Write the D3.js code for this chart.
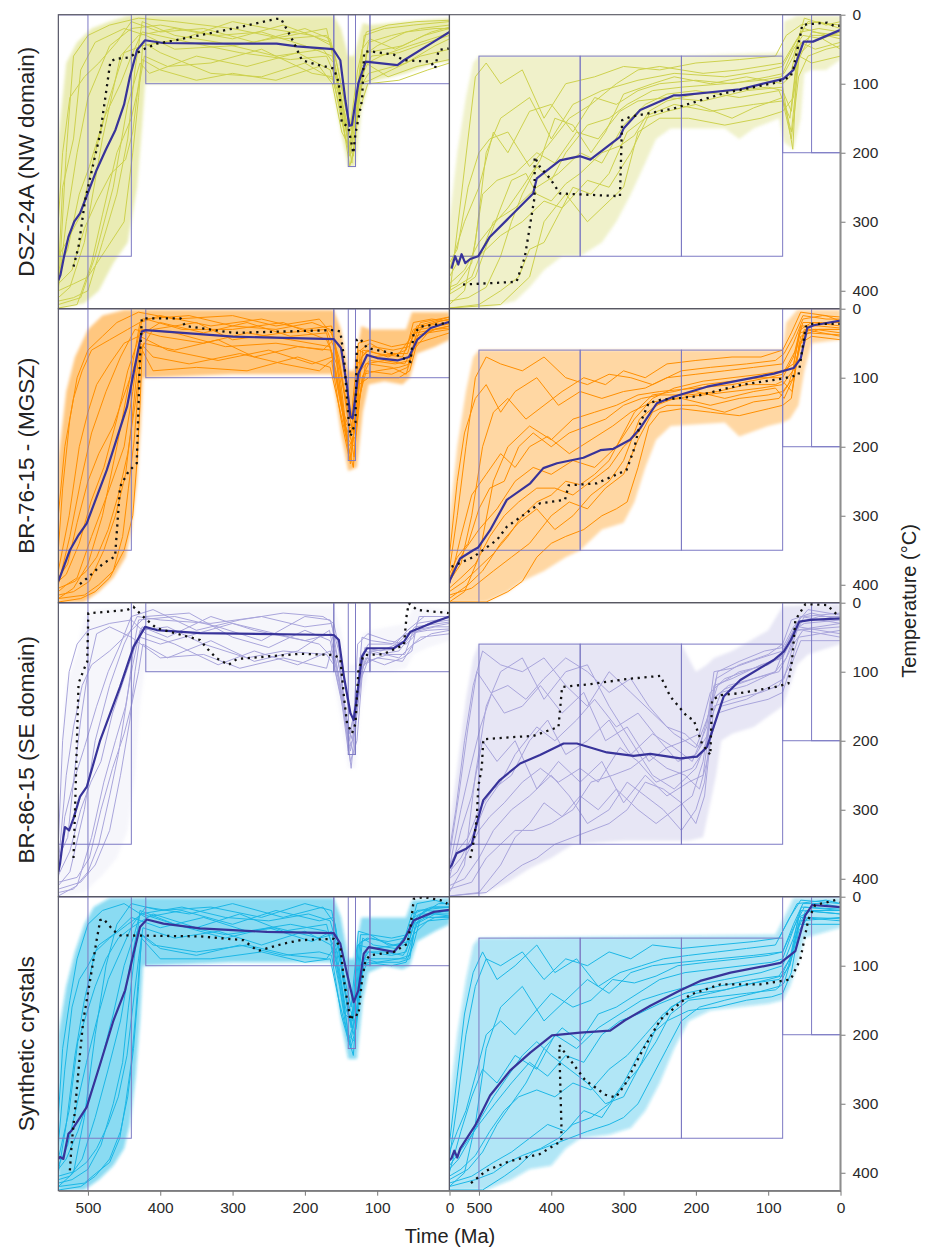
<!DOCTYPE html>
<html>
<head>
<meta charset="utf-8">
<script src="https://cdn.jsdelivr.net/npm/d3@7"></script>
<style>
  body { margin: 0; background: #fff; }
  svg { display: block; font-family: "Liberation Sans", Arial, sans-serif; }
</style>
</head>
<body>
<div id="chart"></div>
<script>
// axis ticks and row names
const timeTicks = [500, 400, 300, 200, 100, 0];
const tempTicks = [0, 100, 200, 300, 400];
const rowNames = ['DSZ-24A (NW domain)', 'BR-76-15 - (MGSZ)', 'BR-86-15 (SE domain)', 'Synthetic crystals'];

// constraint boxes [tOld, tYoung, Tlow, Thigh]
const leftBoxes = [[541, 500, 0, 426], [541, 440, 0, 350], [420, 160, 0, 100], [160, 110, 0, 100], [110, 0, 0, 100], [140, 130, 0, 220]];
const rightBoxes = [[541, 500, 350, 426], [500, 360, 60, 350], [360, 220, 60, 350], [220, 80, 60, 350], [80, 0, 0, 200], [40, 0, 0, 200]];

// ---------- DSZ-24A, left ----------
const dszLeftPaths = [
  [541,410, 525,395, 505,330, 480,180, 455,60, 430,30, 380,20, 300,35, 230,15, 165,40, 150,120, 138,205, 128,140, 112,40, 80,30, 40,20, 0,15],
  [541,395, 530,300, 515,200, 500,120, 470,45, 440,20, 400,15, 320,30, 260,25, 200,45, 162,60, 145,150, 135,215, 122,90, 108,60, 70,55, 30,40, 0,30],
  [541,420, 510,410, 490,350, 465,250, 445,130, 428,70, 415,85, 350,60, 280,75, 210,55, 165,80, 150,140, 137,190, 126,110, 112,85, 60,70, 20,45, 0,35],
  [541,380, 535,250, 520,180, 510,80, 490,40, 450,20, 420,30, 380,50, 300,45, 220,30, 170,20, 155,90, 140,170, 132,160, 118,30, 90,20, 50,15, 0,10],
  [541,400, 520,390, 500,380, 475,340, 450,300, 438,200, 430,120, 424,40, 400,55, 330,85, 260,90, 200,70, 160,95, 148,130, 136,180, 125,100, 110,95, 80,80, 40,60, 0,50],
  [541,350, 530,330, 510,290, 490,200, 470,120, 450,55, 425,45, 370,35, 300,10, 250,20, 190,30, 163,45, 152,110, 141,175, 130,150, 120,60, 100,45, 60,25, 20,20, 0,20],
  [541,415, 520,410, 500,400, 480,330, 460,260, 445,180, 435,80, 425,10, 380,30, 320,40, 240,60, 175,50, 160,70, 147,160, 138,220, 131,190, 123,75, 95,60, 55,45, 10,30, 0,25],
  [541,300, 535,200, 525,120, 505,90, 485,70, 460,40, 440,10, 400,25, 340,20, 270,40, 200,20, 165,35, 155,75, 143,140, 134,170, 121,50, 110,35, 75,50, 35,30, 0,20],
  [541,425, 515,420, 495,360, 480,290, 460,200, 440,150, 428,95, 422,60, 390,75, 330,70, 260,50, 190,85, 161,90, 150,150, 139,200, 129,120, 116,70, 85,90, 45,75, 0,65],
  [541,370, 528,340, 512,260, 498,220, 478,150, 455,100, 440,60, 425,25, 360,40, 290,55, 220,65, 170,60, 154,100, 144,180, 133,205, 124,120, 114,55, 65,45, 25,25, 0,18],
  [541,405, 530,200, 520,60, 500,30, 470,15, 430,5, 380,10, 300,20, 230,35, 170,30, 158,60, 146,120, 137,160, 127,80, 115,25, 85,15, 45,10, 0,8],
  [541,390, 522,370, 505,310, 488,270, 468,230, 448,210, 438,170, 430,100, 425,65, 400,80, 350,95, 300,85, 240,95, 180,75, 162,100, 149,170, 136,195, 125,140, 113,100, 70,95, 30,80, 0,70]
];
const dszLeftUpper = [541,180, 530,70, 515,40, 495,20, 470,10, 445,2, 160,2, 150,20, 140,60, 132,60, 120,12, 110,15, 60,10, 0,5];
const dszLeftLower = [541,426, 505,418, 485,400, 465,360, 445,330, 432,250, 425,160, 421,100, 300,100, 162,100, 150,170, 140,220, 130,220, 122,140, 112,100, 100,95, 60,85, 20,70, 0,68];
const dszLeftMean = [541,385, 538,377, 533,350, 527,322, 519,300, 511,288, 500,258, 488,225, 475,195, 462,167, 450,130, 442,90, 432,51, 421,37, 396,41, 322,42, 239,42, 211,46, 161,50, 151,66, 144,124, 138.5,161, 135,160, 126,99, 116,68, 72,73, 63,66, 26,42, 0,25];
const dszLeftBest = [520,365, 513,336, 504,269, 483,172, 469,68, 462,64, 444,62, 421,49, 405,42, 384,38, 299,20, 239,6, 233,6, 223,25, 216,39, 204,66, 188,71, 160,78, 153,99, 149,157, 140,162, 133,201, 130,172, 121,124, 118,54, 110,53, 77,58, 63,66, 26,68, 20,78, 15,51, 1,49];

// ---------- DSZ-24A, right ----------
const dszRightPaths = [
  [541,420, 520,400, 505,330, 490,200, 470,150, 430,120, 400,180, 370,130, 330,110, 280,95, 230,85, 160,90, 100,80, 80,75, 62,40, 50,20, 20,30, 0,35],
  [541,400, 510,380, 480,300, 450,280, 420,250, 390,230, 360,200, 330,215, 300,160, 270,130, 240,115, 200,110, 140,120, 85,110, 70,150, 60,60, 40,40, 0,25],
  [541,380, 525,350, 500,350, 470,320, 440,300, 410,270, 385,280, 350,240, 320,250, 290,200, 265,145, 230,130, 180,140, 120,130, 80,125, 68,180, 58,90, 45,60, 20,50, 0,45],
  [541,410, 505,90, 490,70, 470,100, 440,80, 410,150, 380,100, 340,90, 300,75, 250,80, 200,70, 140,65, 90,60, 75,30, 55,15, 30,10, 0,20],
  [541,425, 470,420, 445,395, 430,380, 410,300, 380,260, 350,300, 320,270, 300,250, 280,170, 250,150, 210,150, 160,160, 110,150, 80,140, 65,120, 55,40, 35,50, 0,40],
  [541,370, 520,300, 500,250, 480,170, 460,200, 430,140, 400,130, 370,170, 340,120, 310,130, 280,110, 250,100, 200,95, 150,100, 100,90, 78,85, 65,60, 50,5, 20,15, 0,10],
  [541,395, 530,390, 510,360, 495,260, 475,240, 450,230, 420,200, 395,215, 365,170, 335,180, 305,140, 280,125, 240,120, 190,125, 130,110, 80,105, 66,195, 60,70, 40,25, 0,30],
  [541,415, 515,410, 490,395, 470,350, 455,300, 440,260, 420,220, 400,240, 380,200, 350,160, 320,150, 295,130, 260,110, 220,105, 160,100, 110,95, 82,90, 65,50, 52,30, 25,35, 0,50],
  [541,360, 530,340, 515,250, 500,200, 485,180, 460,170, 430,220, 405,190, 375,150, 345,130, 310,100, 280,80, 250,75, 190,85, 140,80, 80,70, 60,35, 45,10, 0,15],
  [541,425, 500,420, 470,400, 445,380, 430,340, 410,330, 390,290, 370,250, 345,260, 320,230, 295,170, 270,150, 240,140, 200,130, 150,150, 120,135, 80,120, 68,170, 57,60, 40,70, 0,60],
  [541,390, 520,370, 500,330, 485,310, 460,280, 440,250, 415,210, 395,150, 370,160, 345,200, 325,170, 300,115, 260,100, 230,90, 180,100, 130,90, 80,100, 70,90, 55,25, 30,20, 0,25],
  [541,405, 525,395, 505,380, 488,330, 470,280, 455,240, 435,230, 420,260, 400,270, 380,245, 360,230, 330,200, 305,190, 285,175, 265,140, 240,125, 200,115, 150,110, 100,105, 80,110, 68,140, 58,45, 40,30, 0,30]
];
const dszRightUpper = [541,300, 530,200, 518,120, 508,70, 500,60, 220,60, 80,55, 78,10, 60,2, 0,2];
const dszRightLower = [541,426, 490,425, 450,415, 430,395, 410,370, 385,350, 360,350, 330,330, 310,300, 290,260, 270,215, 255,180, 235,165, 160,165, 140,180, 120,165, 85,150, 78,185, 65,195, 55,150, 50,85, 40,80, 20,80, 0,65];
const dszRightMean = [538,368, 533,350, 528.5,362, 524,347, 519,360, 512,354, 501,350, 485,322, 462,298, 425,259, 420,237, 388,211, 360,205, 346,210, 305,177, 300,165, 277,138, 231,117, 222,117, 139,108, 79,93, 65,80, 55,51, 51,39, 38,39, 0,22];
const dszRightBest = [522,391, 448,387, 436.5,351, 423,264, 423,206, 416,220, 402,237, 388,259, 305,263, 302,153, 291,148, 231,136, 162,114, 92,99, 69,90, 65,77, 55,27, 53,15, 41,13.5, 18.5,11.6, 9,16, 0,16];

// ---------- BR-76-15, left ----------
const br76LeftPaths = [
  [541,420, 520,405, 500,370, 480,300, 460,200, 440,90, 428,20, 400,10, 330,25, 260,15, 200,30, 163,25, 150,110, 139,210, 130,170, 120,60, 100,65, 65,70, 50,30, 20,20, 0,15],
  [541,400, 525,330, 510,250, 495,180, 475,120, 455,70, 435,30, 400,40, 340,50, 280,35, 220,45, 165,55, 152,130, 140,190, 131,200, 124,90, 110,75, 75,80, 55,75, 45,35, 0,25],
  [541,410, 530,400, 515,390, 495,330, 470,260, 450,200, 438,120, 428,40, 390,60, 320,75, 250,60, 190,80, 162,70, 148,150, 137,225, 128,140, 115,90, 80,95, 58,85, 48,45, 20,30, 0,28],
  [541,350, 535,260, 525,160, 515,100, 500,60, 480,40, 460,20, 430,5, 380,15, 300,10, 240,25, 180,15, 160,40, 146,120, 136,160, 126,50, 110,45, 80,55, 55,50, 40,20, 0,12],
  [541,425, 510,420, 490,410, 470,390, 450,350, 438,300, 432,220, 428,140, 425,60, 410,90, 350,85, 280,90, 210,70, 165,85, 153,140, 141,195, 133,230, 125,110, 112,100, 70,100, 55,90, 45,50, 15,40, 0,35],
  [541,390, 528,370, 515,310, 500,250, 485,210, 465,170, 445,110, 430,65, 410,30, 350,20, 300,45, 230,35, 170,30, 158,60, 147,150, 136,180, 127,80, 114,60, 85,70, 60,60, 50,20, 25,15, 0,18],
  [541,415, 520,410, 498,395, 478,350, 462,300, 448,240, 440,170, 432,90, 426,30, 380,35, 310,55, 240,50, 175,60, 160,45, 149,100, 139,170, 132,215, 124,130, 116,80, 90,75, 62,80, 52,60, 40,30, 0,22],
  [541,300, 532,200, 520,130, 508,90, 495,60, 470,45, 445,30, 420,15, 370,30, 300,30, 230,20, 170,45, 156,80, 144,170, 134,195, 122,70, 106,55, 78,60, 56,55, 45,25, 10,15, 0,12],
  [541,405, 518,395, 502,380, 488,360, 472,320, 458,270, 445,210, 435,140, 428,80, 423,50, 380,60, 320,45, 270,70, 210,55, 164,60, 152,120, 140,200, 130,185, 121,100, 112,80, 80,85, 60,95, 50,60, 30,35, 0,30],
  [541,380, 526,300, 512,200, 500,150, 488,110, 470,80, 450,50, 430,40, 400,20, 340,35, 280,20, 220,40, 170,35, 157,90, 145,165, 134,175, 126,60, 108,70, 70,65, 52,40, 35,25, 0,20],
  [541,420, 505,415, 485,400, 465,380, 452,330, 444,260, 436,190, 430,110, 427,50, 410,70, 360,80, 290,65, 230,80, 180,90, 163,75, 150,160, 138,220, 129,160, 119,95, 100,90, 70,85, 55,80, 47,40, 20,30, 0,25],
  [541,395, 530,385, 512,340, 496,280, 478,230, 460,160, 445,90, 432,50, 425,15, 360,10, 300,25, 240,30, 190,20, 165,30, 153,70, 142,140, 133,180, 123,60, 110,50, 85,65, 58,65, 48,30, 20,20, 0,15]
];
const br76LeftUpper = [541,220, 530,120, 518,70, 500,30, 480,10, 450,2, 160,2, 150,30, 140,90, 132,90, 122,25, 110,30, 60,30, 52,5, 0,5];
const br76LeftLower = [541,426, 505,425, 485,410, 465,390, 448,360, 440,320, 432,250, 427,170, 424,100, 300,95, 162,95, 150,180, 140,235, 128,230, 120,150, 112,110, 90,105, 65,110, 55,100, 45,65, 20,55, 0,45];
const br76LeftMean = [541,395, 538.6,388.5, 525,350, 513,328, 501.7,311, 474,234, 446,142, 432.5,70, 425.5,33, 420,31, 299,40.6, 160,44, 150,57, 141.7,113, 137,156.5, 134,159, 126,94, 114,67, 100,71.5, 72,75, 56,70, 44.6,45, 26,28, 0,19];
const br76LeftBest = [511,399, 499.5,389, 478.7,369, 462.5,359, 455.6,258, 444,236, 432.5,224, 428,70, 425.5,14, 372,14, 365.6,25, 298.7,35, 160,31, 151,33, 146,70, 139.5,161, 137,185, 130,165, 128,45, 124,43, 114,57, 77,65, 54,77, 49.6,36, 40,26, 0,20];

// ---------- BR-76-15, right ----------
const br76RightPaths = [
  [541,425, 520,410, 500,360, 480,250, 460,200, 430,170, 400,190, 370,160, 340,150, 310,140, 280,125, 250,120, 200,115, 150,110, 100,100, 80,95, 62,60, 52,20, 25,20, 0,20],
  [541,400, 525,330, 510,270, 490,240, 470,210, 450,230, 430,200, 405,185, 375,210, 345,190, 315,170, 290,150, 260,135, 220,130, 180,140, 140,130, 100,125, 80,120, 65,100, 55,40, 30,30, 0,30],
  [541,380, 530,300, 518,200, 505,100, 490,70, 470,80, 440,90, 410,70, 380,100, 350,110, 320,95, 290,100, 260,110, 220,90, 180,85, 130,80, 90,75, 78,65, 65,40, 52,10, 20,15, 0,15],
  [541,415, 510,405, 480,380, 455,360, 430,340, 400,300, 375,280, 350,290, 325,260, 300,240, 280,190, 260,150, 240,140, 200,140, 160,150, 120,135, 85,130, 72,110, 60,70, 50,30, 0,40],
  [541,390, 520,350, 500,320, 475,290, 450,250, 425,230, 400,240, 370,220, 340,230, 310,200, 285,160, 260,130, 230,115, 190,105, 150,100, 110,95, 80,90, 65,80, 55,30, 40,20, 0,25],
  [541,420, 515,400, 495,380, 470,340, 445,310, 420,290, 395,320, 370,300, 345,270, 320,250, 300,220, 278,160, 255,140, 230,130, 190,125, 150,120, 110,115, 80,110, 66,90, 57,35, 35,30, 0,35],
  [541,360, 530,250, 520,180, 505,130, 490,110, 470,150, 450,120, 420,100, 390,140, 360,120, 330,130, 300,120, 270,115, 240,100, 200,95, 160,90, 120,85, 80,80, 65,50, 52,15, 25,10, 0,12],
  [541,405, 525,390, 505,370, 485,330, 465,300, 445,280, 420,260, 395,260, 370,270, 345,250, 320,230, 300,200, 280,180, 260,145, 240,130, 200,120, 160,130, 120,120, 90,115, 78,130, 65,100, 55,50, 40,40, 0,45],
  [541,425, 490,425, 460,410, 440,395, 420,360, 400,340, 380,330, 355,320, 330,300, 310,290, 295,280, 280,230, 265,170, 250,150, 220,145, 180,150, 140,155, 100,145, 80,140, 68,130, 58,60, 48,30, 0,30],
  [541,395, 525,370, 510,300, 495,200, 480,150, 460,130, 435,160, 410,140, 385,120, 355,100, 325,110, 300,90, 270,100, 240,80, 200,75, 150,70, 110,70, 80,60, 68,35, 55,5, 20,10, 0,18],
  [541,410, 520,395, 500,375, 480,355, 460,330, 440,300, 420,280, 400,270, 380,250, 360,255, 340,240, 320,220, 300,180, 285,150, 260,125, 230,120, 190,110, 150,105, 110,100, 80,100, 65,70, 55,25, 30,25, 0,28],
  [541,385, 530,360, 515,340, 500,290, 485,260, 465,250, 445,200, 425,180, 400,200, 375,180, 350,170, 325,160, 300,140, 275,130, 250,125, 210,125, 170,120, 130,110, 90,110, 80,105, 67,120, 57,50, 45,35, 0,38]
];
const br76RightUpper = [541,310, 530,200, 518,120, 508,70, 500,60, 80,60, 75,20, 60,2, 0,2];
const br76RightLower = [541,426, 490,425, 460,410, 440,395, 410,380, 380,360, 360,350, 330,320, 300,310, 285,280, 270,230, 255,190, 235,170, 160,165, 140,185, 100,170, 80,165, 70,160, 58,140, 50,90, 40,50, 0,45];
const br76RightMean = [541,398, 540,393, 526,362, 508,350, 501,346, 484.6,321, 461.5,277, 429,253, 411,231, 392,224, 355.5,216, 332,205, 314,203, 291,190, 277,173, 254,137, 231,127.5, 184.6,113, 92,94, 64.7,86, 55,72, 46,28, 37,24, 0,17.4];
const br76RightBest = [538,374, 508,360, 475,335, 461.5,316, 415.6,282, 381,277, 376,256, 337,253, 296,234, 286,205, 277,166, 265.5,137, 249,132, 203,127.5, 138.5,110.6, 78.5,101, 58,96, 55,74, 48,26, 41,22, 0,22];

// ---------- BR-86-15, left ----------
const br86LeftPaths = [
  [541,410, 525,390, 505,300, 490,200, 470,120, 450,60, 432,20, 400,25, 330,30, 260,20, 200,35, 163,30, 150,110, 138,200, 128,130, 118,70, 100,75, 70,70, 55,50, 30,30, 0,25],
  [541,380, 530,250, 520,180, 508,120, 495,90, 470,70, 440,40, 420,20, 360,15, 300,50, 250,65, 200,40, 165,55, 152,120, 140,215, 131,190, 124,80, 112,60, 80,60, 60,45, 20,35, 0,35],
  [541,425, 515,410, 495,340, 478,260, 462,200, 448,150, 438,90, 428,40, 390,35, 340,60, 280,80, 230,70, 170,75, 160,90, 146,160, 136,240, 128,150, 119,90, 100,80, 65,85, 50,60, 25,45, 0,40],
  [541,400, 532,310, 520,260, 505,210, 488,150, 472,100, 455,60, 440,20, 410,10, 350,40, 290,25, 230,15, 175,20, 160,30, 148,90, 139,160, 130,170, 121,50, 108,55, 75,60, 58,40, 35,20, 0,20],
  [541,350, 535,200, 526,100, 515,60, 500,40, 470,30, 440,25, 420,45, 380,60, 320,90, 270,70, 210,90, 165,70, 154,100, 142,180, 133,200, 125,100, 114,85, 85,75, 62,75, 50,40, 0,30],
  [541,415, 510,405, 490,380, 470,330, 455,250, 442,170, 435,100, 428,50, 400,60, 350,45, 300,30, 240,45, 180,60, 162,80, 149,140, 137,215, 129,170, 117,65, 95,70, 62,55, 48,35, 0,28],
  [541,395, 525,360, 510,300, 496,260, 482,230, 466,160, 450,110, 437,70, 425,35, 390,50, 330,20, 270,40, 200,55, 163,45, 151,100, 141,190, 132,220, 126,120, 116,80, 90,90, 65,80, 52,70, 45,30, 0,22],
  [541,420, 520,415, 500,390, 485,350, 470,280, 458,220, 446,140, 436,60, 430,25, 380,20, 320,35, 260,55, 200,20, 165,25, 153,70, 143,170, 134,200, 127,60, 113,45, 85,55, 60,60, 50,50, 42,20, 0,20],
  [541,370, 528,340, 518,240, 510,170, 500,100, 488,45, 470,35, 440,50, 400,80, 340,75, 290,95, 230,80, 170,95, 161,60, 150,130, 138,190, 130,150, 122,110, 108,70, 70,80, 55,65, 40,50, 0,45],
  [541,405, 515,398, 498,370, 482,300, 466,240, 450,190, 440,150, 430,100, 424,60, 390,80, 330,55, 270,85, 210,70, 166,40, 156,90, 146,150, 137,230, 128,200, 120,95, 110,70, 80,68, 58,45, 30,40, 0,38]
];
const br86LeftUpper = [541,250, 530,120, 515,70, 505,20, 490,10, 440,5, 160,5, 150,40, 140,90, 130,90, 120,45, 110,40, 60,30, 50,5, 0,10];
const br86LeftLower = [541,426, 505,420, 480,395, 460,370, 445,330, 435,250, 428,150, 422,100, 300,100, 162,100, 150,170, 140,240, 130,240, 122,140, 112,100, 80,100, 60,95, 50,75, 30,65, 0,55];
const br86LeftMean = [541,390, 538.6,378, 534,340, 531.7,325, 526,330, 520,312.5, 511,281, 501.7,267, 483,199, 455.6,122, 437,64, 421,35, 405,39.6, 345,44, 160,46.8, 153,54, 146,107, 137,160, 132.5,170, 128,136, 121,78, 114,66, 77,66, 63,56.6, 54,42, 26,30, 0,20];
const br86LeftBest = [520,370, 518,305, 515.6,213, 513,117, 506,97.5, 501,85.5, 499.5,15.4, 446,10.6, 437,6, 433,10.6, 418.6,25, 405,37, 345,54, 335.6,66, 322,80.6, 305.6,90, 294,81.6, 206,74, 160,75.8, 151,81, 146,136, 141.7,175, 134.7,189, 130,175, 126,97.5, 118.6,75.8, 91.4,74.6, 63,61, 59,15.4, 56,1, 44.6,10.6, 1,15];

// ---------- BR-86-15, right ----------
const br86RightPaths = [
  [541,420, 520,380, 505,250, 490,150, 470,100, 440,80, 410,140, 380,100, 350,90, 320,150, 290,200, 260,250, 230,270, 200,240, 185,200, 175,120, 150,110, 110,90, 80,80, 65,40, 50,30, 0,25],
  [541,400, 525,330, 510,280, 495,200, 475,230, 450,200, 420,270, 390,230, 360,260, 330,230, 300,290, 270,250, 240,280, 210,260, 190,250, 180,170, 165,130, 130,120, 90,100, 75,60, 60,40, 0,35],
  [541,380, 530,360, 515,340, 500,300, 480,270, 455,250, 430,200, 405,170, 380,220, 350,200, 320,170, 290,220, 260,190, 230,210, 205,230, 185,180, 175,100, 150,95, 110,80, 80,70, 60,30, 30,20, 0,20],
  [541,425, 500,420, 470,380, 450,340, 430,320, 410,290, 385,310, 360,280, 335,300, 310,270, 280,300, 255,320, 230,300, 205,280, 190,230, 178,140, 160,125, 120,110, 85,100, 70,70, 58,35, 0,45],
  [541,360, 532,300, 520,200, 508,120, 495,70, 470,90, 440,100, 410,80, 380,120, 350,150, 320,100, 290,130, 260,160, 230,190, 200,210, 185,170, 170,120, 140,100, 100,90, 78,75, 65,50, 50,20, 0,15],
  [541,410, 520,400, 500,370, 480,330, 455,300, 430,280, 400,250, 375,280, 350,320, 320,300, 295,260, 270,280, 245,300, 220,330, 200,300, 188,260, 180,190, 165,150, 130,140, 95,120, 78,110, 65,60, 52,40, 0,50],
  [541,390, 525,370, 510,340, 490,290, 470,260, 450,220, 420,180, 395,200, 365,170, 340,140, 310,180, 280,160, 250,200, 225,230, 200,220, 183,190, 172,110, 140,90, 100,75, 80,60, 68,25, 40,15, 0,25],
  [541,415, 510,405, 490,370, 470,350, 450,330, 425,330, 400,320, 370,300, 345,260, 315,250, 290,240, 265,220, 240,240, 215,250, 195,270, 182,220, 175,150, 150,140, 110,130, 85,120, 70,90, 58,50, 0,40],
  [541,370, 528,280, 515,180, 503,100, 490,120, 465,160, 440,150, 415,120, 385,160, 355,130, 325,200, 295,180, 265,230, 240,210, 215,200, 195,190, 180,130, 160,110, 120,95, 85,80, 70,50, 55,20, 0,30],
  [541,425, 490,420, 460,395, 440,380, 420,370, 395,350, 370,340, 345,330, 320,320, 295,300, 270,260, 245,270, 220,290, 200,320, 188,280, 180,200, 170,160, 140,150, 100,140, 80,130, 68,90, 55,55, 0,55],
  [541,400, 530,390, 515,360, 500,330, 485,310, 465,290, 440,260, 415,240, 390,260, 360,240, 335,260, 305,210, 280,230, 255,260, 230,250, 205,240, 186,210, 176,140, 155,120, 120,110, 90,100, 75,80, 62,40, 0,30],
  [541,385, 525,300, 512,240, 498,180, 482,130, 460,120, 435,140, 410,110, 380,80, 350,100, 320,130, 290,110, 265,150, 240,180, 215,190, 195,210, 182,160, 170,100, 140,85, 105,70, 80,65, 65,35, 45,10, 0,18]
];
const br86RightUpper = [541,330, 530,240, 518,140, 508,80, 500,60, 220,60, 200,100, 185,90, 175,80, 150,70, 100,40, 80,5, 0,2];
const br86RightLower = [541,426, 500,425, 460,405, 430,385, 400,370, 370,350, 300,345, 250,345, 210,345, 190,340, 182,300, 172,250, 165,200, 150,190, 120,180, 100,165, 80,150, 70,120, 60,90, 45,75, 0,60];
const br86RightMean = [541,385, 537.7,380, 530.8,363, 517,356, 510,350, 503,320, 494,286, 471,257, 443,233, 415.6,220.7, 383,204, 364.6,204, 323,217, 286,222, 263,219, 221.6,225.5, 198.4,223, 184.6,209, 175.4,180, 161.6,136, 138.5,112, 92.4,83, 78.5,71, 68.6,54, 57,27.5, 41,25, 0,22.6];
const br86RightBest = [512,370, 507.8,349, 503,312.5, 501,267, 496,238, 494,198, 457,195, 424.7,193, 390,180, 385,122, 346,118, 295.5,110.6, 249,106, 235.4,136, 212,165, 203,170, 191.6,204, 180,220.7, 177.6,141, 166,134, 138.5,131, 92.4,122.6, 72,117, 67,83, 62.4,25, 48.5,2, 18.5,3.4, 2.4,20];

// ---------- Synthetic crystals, left ----------
const synLeftPaths = [
  [541,420, 520,400, 505,320, 490,200, 475,100, 460,40, 440,10, 400,20, 330,15, 260,30, 200,10, 163,20, 150,90, 138,180, 129,150, 120,60, 105,70, 75,75, 55,50, 45,10, 20,5, 0,12],
  [541,400, 530,330, 518,230, 505,150, 490,80, 470,60, 445,40, 425,25, 380,40, 310,55, 240,45, 180,60, 162,55, 151,120, 140,200, 131,210, 124,100, 112,80, 80,85, 60,80, 50,40, 25,25, 0,20],
  [541,410, 525,405, 508,380, 490,320, 472,250, 455,180, 442,100, 432,50, 410,70, 350,80, 280,70, 220,85, 170,90, 160,75, 148,140, 137,220, 129,190, 118,90, 100,95, 70,95, 55,90, 48,45, 20,30, 0,28],
  [541,320, 535,220, 525,150, 515,90, 500,40, 480,20, 450,10, 420,30, 370,20, 300,40, 240,20, 180,35, 160,30, 147,110, 136,160, 126,50, 110,55, 80,60, 58,55, 45,20, 0,15],
  [541,425, 510,420, 490,405, 470,380, 455,340, 445,290, 437,220, 430,130, 426,60, 400,90, 330,90, 260,80, 200,95, 165,90, 153,150, 141,200, 133,230, 125,120, 113,95, 80,100, 60,95, 50,70, 40,30, 0,30],
  [541,390, 528,360, 515,300, 502,240, 488,180, 472,120, 455,80, 438,40, 420,15, 360,25, 300,10, 230,30, 175,15, 158,40, 146,130, 136,190, 127,70, 114,60, 85,65, 62,60, 52,25, 25,15, 0,15],
  [541,415, 522,410, 500,395, 482,360, 465,300, 452,240, 444,160, 436,90, 428,20, 380,40, 310,60, 250,45, 190,65, 163,50, 150,100, 140,170, 132,200, 124,130, 115,80, 90,80, 64,85, 52,60, 40,25, 0,25],
  [541,360, 532,250, 522,160, 512,120, 500,100, 485,70, 465,55, 440,30, 400,45, 340,30, 280,50, 220,40, 170,50, 156,80, 144,160, 134,190, 122,65, 108,60, 78,70, 56,65, 46,30, 15,10, 0,10],
  [541,405, 518,398, 502,385, 488,365, 472,330, 458,290, 446,230, 438,160, 430,90, 424,45, 380,60, 320,50, 260,70, 200,50, 164,70, 152,130, 140,210, 130,175, 121,100, 112,90, 80,90, 60,90, 50,55, 30,35, 0,32],
  [541,380, 526,310, 514,210, 502,170, 490,130, 475,90, 458,60, 440,45, 410,25, 350,45, 290,25, 230,50, 170,40, 157,95, 145,170, 134,180, 126,70, 108,75, 70,70, 54,45, 35,20, 0,22],
  [541,420, 505,415, 488,400, 470,385, 456,350, 448,300, 440,240, 434,170, 429,100, 425,55, 400,75, 350,85, 290,70, 230,85, 180,80, 163,85, 150,170, 138,215, 129,170, 119,100, 100,95, 70,90, 55,85, 47,40, 20,25, 0,28],
  [541,395, 530,380, 514,340, 498,290, 482,240, 465,170, 450,100, 436,55, 428,25, 370,15, 310,30, 250,35, 195,25, 165,35, 153,80, 142,150, 133,175, 123,55, 110,55, 85,70, 60,70, 50,30, 22,15, 0,15]
];
const synLeftUpper = [541,200, 530,130, 518,80, 505,40, 492,15, 470,2, 160,2, 150,30, 140,90, 132,90, 122,30, 110,30, 60,30, 52,5, 0,2];
const synLeftLower = [541,426, 505,425, 485,410, 465,390, 450,365, 442,330, 434,260, 428,180, 424,100, 300,95, 162,95, 150,180, 140,235, 128,235, 120,150, 112,110, 90,100, 65,105, 55,100, 45,65, 20,50, 0,40];
const synLeftMean = [541,380, 538.6,377, 534,380, 527,343.6, 522.5,338.6, 501.7,305, 483,242, 464.6,179, 448.6,135.7, 437,82.6, 428,44, 418.6,33, 395.6,39, 345,46, 252.5,51, 160,52.8, 151,68, 141.7,111.6, 132.5,152.8, 126,135.8, 118.6,82.6, 111.7,73, 77,80, 63,63, 49.3,34, 21.6,22, 0,19];
const synLeftBest = [525,396.6, 522.5,358, 518,309.7, 511,227.5, 506.4,179, 497,121, 488,63, 483,34, 478.7,32, 464.6,49, 455.6,56, 345,57.5, 285,63, 266,77.8, 263,78, 229.5,68, 206,63, 160,61, 151,72, 146,121, 137,179, 132.5,170, 126,172, 121,121, 116,92, 110,85, 77,80, 58,68, 54,44, 49.3,3, 35.5,0.6, 12.5,5, 3,10];

// ---------- Synthetic crystals, right ----------
const synRightPaths = [
  [541,420, 520,400, 505,330, 490,220, 470,160, 440,130, 410,180, 380,150, 350,120, 320,140, 290,110, 260,100, 220,95, 170,90, 120,85, 80,80, 65,40, 52,10, 25,10, 0,15],
  [541,400, 525,340, 510,290, 495,250, 475,270, 450,230, 420,250, 395,200, 365,220, 335,190, 305,170, 275,150, 245,140, 210,130, 160,120, 110,110, 80,100, 65,60, 55,20, 0,25],
  [541,380, 530,300, 518,200, 505,130, 490,90, 470,100, 440,80, 410,120, 380,90, 350,100, 320,80, 290,90, 260,70, 220,75, 170,70, 120,65, 85,60, 70,30, 55,5, 0,10],
  [541,415, 510,405, 480,385, 455,370, 430,350, 405,330, 380,340, 355,310, 330,320, 305,280, 280,250, 255,210, 235,170, 210,150, 170,145, 130,140, 90,135, 78,125, 65,80, 55,30, 0,35],
  [541,390, 520,360, 500,330, 478,300, 455,270, 430,240, 405,260, 380,230, 355,240, 330,200, 305,180, 280,170, 250,155, 215,140, 170,130, 120,120, 85,115, 70,90, 58,30, 40,20, 0,20],
  [541,425, 495,425, 465,405, 445,390, 425,370, 400,360, 375,350, 350,340, 320,330, 300,320, 280,300, 260,260, 240,220, 220,180, 195,160, 160,150, 120,140, 85,130, 72,100, 60,50, 48,20, 0,25],
  [541,360, 530,260, 520,170, 508,110, 495,80, 475,120, 450,100, 420,70, 395,110, 365,90, 335,130, 305,110, 275,100, 245,90, 210,85, 170,80, 130,75, 90,70, 75,40, 60,10, 20,5, 0,10],
  [541,405, 525,395, 505,375, 485,340, 465,310, 445,290, 420,280, 395,290, 370,270, 345,280, 320,250, 295,230, 270,200, 245,170, 220,150, 180,140, 140,130, 100,120, 82,115, 68,85, 57,35, 0,30],
  [541,410, 515,395, 495,370, 475,330, 455,300, 435,270, 410,220, 385,190, 360,210, 335,170, 310,160, 280,140, 250,120, 215,110, 175,105, 135,100, 95,95, 80,90, 66,50, 54,15, 0,18],
  [541,395, 528,380, 512,350, 497,320, 480,290, 460,260, 440,230, 420,210, 400,230, 375,250, 350,270, 325,300, 300,290, 275,240, 255,190, 235,160, 200,140, 160,135, 120,125, 85,120, 70,100, 58,40, 0,40],
  [541,370, 530,340, 518,310, 505,260, 490,200, 470,180, 450,200, 425,170, 400,140, 370,160, 345,150, 315,120, 285,125, 255,115, 225,100, 185,95, 140,90, 100,85, 80,80, 65,45, 50,15, 0,20],
  [541,420, 505,410, 480,400, 460,385, 440,375, 415,365, 390,350, 370,330, 345,320, 320,300, 300,270, 280,230, 262,200, 240,180, 210,165, 170,160, 130,150, 95,145, 80,140, 68,110, 58,50, 45,30, 0,32]
];
const synRightUpper = [541,300, 530,200, 518,120, 508,70, 500,60, 90,55, 78,30, 65,2, 0,2];
const synRightLower = [541,426, 490,425, 455,410, 430,395, 400,390, 380,365, 360,350, 320,345, 290,335, 270,310, 250,270, 230,220, 210,180, 180,165, 140,160, 100,155, 80,150, 70,130, 60,100, 50,60, 0,45];
const synRightMean = [541,382, 538,379, 534,368, 530,378, 526,365, 505,331, 484.6,288, 457,252, 429,226, 399,201, 360,197, 318.5,194, 298,179, 263,158, 222,136, 194,122, 152,110, 83,96, 62.5,79, 48.7,27, 39,12, 0,15];
const synRightBest = [511,415, 490,397, 457,383, 416,373, 386,354, 386,330, 389,215, 353,266, 325,287, 311,291, 298,272, 277,229, 249,178, 208,142, 166,127, 111,127, 69,120, 55.6,91, 44.5,33, 35,12, 7,5, 0,8];

// ---------- setup ----------
const width = 929, height = 1249;
const colLeft = [58.3, 449.3];
const panelW = 391.2, panelH = 294, top0 = 14.7;
const rowColors = ['#cdd14e', '#ff8f00', '#a9a5db', '#1cb7e6'];

const panels = [
  { row: 0, col: 0, alpha: 0.42, paths: dszLeftPaths, upper: dszLeftUpper, lower: dszLeftLower, mean: dszLeftMean, best: dszLeftBest, boxes: leftBoxes },
  { row: 0, col: 1, alpha: 0.3, paths: dszRightPaths, upper: dszRightUpper, lower: dszRightLower, mean: dszRightMean, best: dszRightBest, boxes: rightBoxes },
  { row: 1, col: 0, alpha: 0.5, paths: br76LeftPaths, upper: br76LeftUpper, lower: br76LeftLower, mean: br76LeftMean, best: br76LeftBest, boxes: leftBoxes },
  { row: 1, col: 1, alpha: 0.36, paths: br76RightPaths, upper: br76RightUpper, lower: br76RightLower, mean: br76RightMean, best: br76RightBest, boxes: rightBoxes },
  { row: 2, col: 0, alpha: 0.1, paths: br86LeftPaths, upper: br86LeftUpper, lower: br86LeftLower, mean: br86LeftMean, best: br86LeftBest, boxes: leftBoxes },
  { row: 2, col: 1, alpha: 0.28, paths: br86RightPaths, upper: br86RightUpper, lower: br86RightLower, mean: br86RightMean, best: br86RightBest, boxes: rightBoxes },
  { row: 3, col: 0, alpha: 0.5, paths: synLeftPaths, upper: synLeftUpper, lower: synLeftLower, mean: synLeftMean, best: synLeftBest, boxes: leftBoxes },
  { row: 3, col: 1, alpha: 0.34, paths: synRightPaths, upper: synRightUpper, lower: synRightLower, mean: synRightMean, best: synRightBest, boxes: rightBoxes }
];

// flat [t,T,t,T...] -> [[t,T],...]
function pairs(a) {
  const out = [];
  for (let i = 0; i < a.length; i += 2) out.push([a[i], a[i + 1]]);
  return out;
}

const svg = d3.select('#chart').append('svg')
  .attr('width', width)
  .attr('height', height);

svg.append('rect').attr('width', width).attr('height', height).attr('fill', '#fff');
const defs = svg.append('defs');

// soft edge for the path spread
defs.append('filter').attr('id', 'soft')
  .attr('x', '-5%').attr('y', '-5%').attr('width', '110%').attr('height', '110%')
  .append('feGaussianBlur').attr('stdDeviation', 1.6);

function xScale(col) {
  return d3.scaleLinear().domain([541, 0]).range([colLeft[col], colLeft[col] + panelW]);
}
function yScale(row) {
  const t = top0 + row * panelH;
  return d3.scaleLinear().domain([0, 426]).range([t, t + panelH]);
}

panels.forEach(function(p, i) {
  const x = xScale(p.col), y = yScale(p.row);
  const color = rowColors[p.row];
  const line = d3.line().x(d => x(d[0])).y(d => y(d[1]));

  defs.append('clipPath').attr('id', 'clip' + i)
    .append('rect')
    .attr('x', colLeft[p.col]).attr('y', y(0))
    .attr('width', panelW).attr('height', panelH);

  const g = svg.append('g').attr('clip-path', 'url(#clip' + i + ')');

  // spread of accepted paths
  const poly = pairs(p.upper).concat(pairs(p.lower).reverse());
  g.append('path')
    .attr('d', line(poly) + 'Z')
    .attr('fill', color)
    .attr('fill-opacity', p.alpha)
    .attr('stroke', 'none')
    .attr('filter', 'url(#soft)');

  g.selectAll('.tpath')
    .data(p.paths)
    .join('path')
    .attr('class', 'tpath')
    .attr('d', d => line(pairs(d)))
    .attr('fill', 'none')
    .attr('stroke', color)
    .attr('stroke-width', 1)
    .attr('stroke-linejoin', 'round');

  // constraint boxes
  g.selectAll('.box')
    .data(p.boxes)
    .join('rect')
    .attr('class', 'box')
    .attr('x', d => x(d[0]))
    .attr('y', d => y(d[2]))
    .attr('width', d => x(d[1]) - x(d[0]))
    .attr('height', d => y(d[3]) - y(d[2]))
    .attr('fill', 'none')
    .attr('stroke', '#7d7ac4')
    .attr('stroke-width', 1);

  g.append('path')
    .attr('d', line(pairs(p.mean)))
    .attr('fill', 'none')
    .attr('stroke', '#38339a')
    .attr('stroke-width', 2.2)
    .attr('stroke-linejoin', 'round');

  g.append('path')
    .attr('d', line(pairs(p.best)))
    .attr('fill', 'none')
    .attr('stroke', '#111')
    .attr('stroke-width', 2.3)
    .attr('stroke-dasharray', '2.2,4.6');

  // panel frame
  svg.append('rect')
    .attr('x', colLeft[p.col]).attr('y', y(0))
    .attr('width', panelW).attr('height', panelH)
    .attr('fill', 'none')
    .attr('stroke', '#55555f')
    .attr('stroke-width', 1.1);
});

// right temperature axes
for (let r = 0; r < 4; r++) {
  const ax = svg.append('g')
    .attr('transform', `translate(${colLeft[1] + panelW},0)`)
    .call(d3.axisRight(yScale(r)).tickValues(tempTicks).tickSize(5).tickPadding(7).tickSizeOuter(0));
  ax.select('.domain').remove();
  ax.selectAll('line').attr('stroke', '#777');
  ax.selectAll('text').attr('fill', '#2a2a2a').style('font-size', '15.5px');
}
svg.append('line')
  .attr('x1', colLeft[1] + panelW).attr('x2', colLeft[1] + panelW)
  .attr('y1', top0).attr('y2', top0 + 4 * panelH)
  .attr('stroke', '#8e8e8e').attr('stroke-width', 2);

// bottom time axes
[0, 1].forEach(function(c) {
  const ax = svg.append('g')
    .attr('transform', `translate(0,${top0 + 4 * panelH})`)
    .call(d3.axisBottom(xScale(c)).tickValues(timeTicks).tickSize(5).tickPadding(6).tickSizeOuter(0));
  ax.select('.domain').attr('stroke', '#8a8a8a').attr('stroke-width', 1.6);
  ax.selectAll('line').attr('stroke', '#777');
  ax.selectAll('text').attr('fill', '#2a2a2a').style('font-size', '15.5px');
});

// labels
rowNames.forEach(function(name, r) {
  svg.append('text')
    .attr('transform', `translate(26,${top0 + r * panelH + panelH / 2}) rotate(-90)`)
    .attr('text-anchor', 'middle')
    .attr('dy', '0.35em')
    .attr('fill', '#222')
    .style('font-size', '22.5px')
    .text(name);
});

svg.append('text')
  .attr('transform', 'translate(909,601) rotate(-90)')
  .attr('text-anchor', 'middle')
  .attr('dy', '0.35em')
  .attr('fill', '#222')
  .style('font-size', '20px')
  .text('Temperature (°C)');

svg.append('text')
  .attr('x', 450)
  .attr('y', 1243)
  .attr('text-anchor', 'middle')
  .attr('fill', '#222')
  .style('font-size', '20px')
  .text('Time (Ma)');
</script>
</body>
</html>
